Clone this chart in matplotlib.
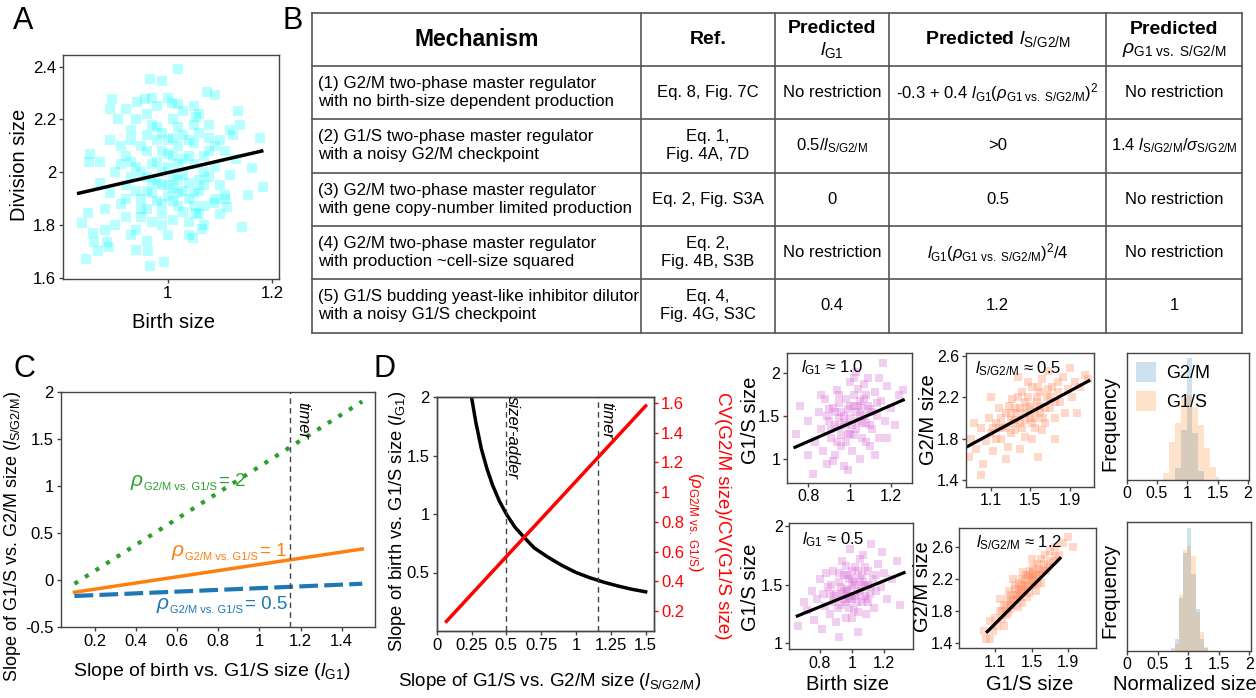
import numpy as np
import matplotlib
matplotlib.use('Agg')
import matplotlib.pyplot as plt
from matplotlib.ticker import FuncFormatter
from matplotlib.patches import Patch

W, H = 1256, 698

plt.rcParams['font.family'] = ['Liberation Sans', 'DejaVu Sans']
plt.rcParams['mathtext.fontset'] = 'custom'
plt.rcParams['mathtext.rm'] = 'Liberation Sans'
plt.rcParams['mathtext.it'] = 'Liberation Sans:italic'
plt.rcParams['mathtext.bf'] = 'Liberation Sans:bold'
plt.rcParams['mathtext.sf'] = 'Liberation Sans'

# ---------------- data ----------------
# panel A: birth size vs division size (points read off the cloud)
a_birth = [1.020, 0.966, 0.990, 1.075, 1.091, 0.893, 0.889, 0.906, 1.135, 1.176, 1.183, 1.143,
           0.836, 0.844, 0.967, 0.993, 0.851, 0.850, 0.858, 0.866, 0.860, 0.884, 0.887, 0.848,
           0.870, 0.940, 0.963, 1.049, 1.065, 1.154, 1.162, 1.138, 1.125, 1.110, 1.113, 1.088,
           1.055, 0.957, 0.942, 1.008, 1.020, 1.055,
           0.92, 0.94, 0.95, 0.96, 0.97, 0.98, 0.99, 1.00, 1.01, 1.02, 1.03, 1.04, 1.05, 1.06,
           1.07, 1.08, 0.90, 0.91, 0.93, 0.95, 0.97, 0.99, 1.01, 1.03, 1.05, 1.07, 1.09, 1.10,
           0.89, 0.92, 0.94, 0.96, 0.98, 1.00, 1.02, 1.04, 1.06, 1.08, 1.11, 0.93, 0.98, 1.00,
           1.02, 1.05, 0.96, 0.99, 1.03, 0.95, 1.01, 0.97, 1.04, 0.91, 1.12, 1.10, 0.88, 0.94,
           1.06, 1.00, 0.98, 1.09, 0.92, 1.13, 0.87, 1.03, 0.96, 1.01, 0.99, 1.02,
           0.93, 0.95, 0.97, 0.99, 1.01, 1.03, 1.05, 1.07, 0.94, 0.96, 0.98, 1.00, 1.02, 1.04,
           1.06, 1.08, 0.92, 0.95, 0.97, 0.99, 1.01, 1.03, 1.05, 1.07, 0.91, 0.93, 0.96, 0.98,
           1.00, 1.02, 1.04, 1.06, 1.08, 0.90, 0.93, 0.96, 0.99, 1.01, 1.04, 1.07, 1.09, 1.11,
           0.89, 0.92, 1.00, 1.05, 1.12, 0.88, 0.97, 1.10]
a_div = [2.391, 2.352, 2.347, 2.305, 2.292, 2.276, 2.238, 2.200, 2.233, 2.128, 1.942, 1.793,
         1.808, 1.669, 1.643, 1.659, 2.069, 2.040, 1.770, 1.701, 1.736, 1.736, 1.715, 1.846,
         2.040, 1.705, 1.700, 1.750, 1.785, 1.913, 2.014, 2.180, 2.140, 1.913, 1.869, 1.882,
         1.846, 2.276, 2.264, 2.261, 2.259, 2.210,
         1.95, 2.02, 1.90, 2.08, 1.97, 2.12, 1.88, 2.02, 1.94, 2.10, 1.99, 2.06, 1.92, 2.15,
         2.00, 2.08, 2.00, 1.88, 2.12, 1.83, 2.18, 1.80, 2.20, 1.85, 2.18, 1.87, 2.02, 1.95,
         1.92, 2.06, 1.78, 1.86, 2.04, 1.91, 2.03, 1.81, 1.97, 2.13, 2.08, 1.98, 1.96, 2.12,
         1.87, 2.03, 1.93, 2.15, 2.14, 2.00, 2.06, 1.81, 1.96, 2.10, 1.99, 2.12, 1.86, 2.20,
         1.84, 1.76, 2.25, 1.90, 1.83, 2.05, 1.96, 2.23, 2.14, 1.98, 2.00, 1.92,
         2.04, 2.10, 2.03, 2.08, 2.13, 2.05, 2.11, 2.06, 1.93, 1.98, 1.89, 1.95, 1.97, 1.90,
         1.93, 1.98, 1.90, 1.86, 1.92, 1.84, 1.89, 1.93, 1.87, 1.95, 2.03, 2.16, 2.22, 2.17,
         2.07, 2.17, 2.12, 2.22, 2.18, 1.80, 1.76, 1.74, 1.95, 1.82, 1.76, 1.80, 2.10, 1.90,
         2.12, 2.24, 2.28, 2.25, 2.16, 1.78, 2.28, 1.84]
a_fit_x = [0.83, 1.18]
a_fit_y = [1.92, 2.08]

# table B
table_header = ['Mechanism', 'Ref.', 'Predicted\n$\\mathit{l}_{\\mathrm{G1}}$',
                'Predicted $\\mathit{l}_{\\mathrm{S/G2/M}}$',
                'Predicted\n$\\rho_{\\mathrm{G1\\ vs.\\ S/G2/M}}$']
table_rows = [
    ['(1) G2/M two-phase master regulator\nwith no birth-size dependent production',
     'Eq. 8, Fig. 7C', 'No restriction',
     '-0.3 + 0.4 $\\mathit{l}_{\\mathrm{G1}}(\\rho_{\\mathrm{G1\\ vs.\\ S/G2/M}})^2$', 'No restriction'],
    ['(2) G1/S two-phase master regulator\nwith a noisy G2/M checkpoint',
     'Eq. 1,\nFig. 4A, 7D', '0.5/$\\mathit{l}_{\\mathrm{S/G2/M}}$', '>0',
     '1.4 $\\mathit{l}_{\\mathrm{S/G2/M}}/\\sigma_{\\mathrm{S/G2/M}}$'],
    ['(3) G2/M two-phase master regulator\nwith gene copy-number limited production',
     'Eq. 2, Fig. S3A', '0', '0.5', 'No restriction'],
    ['(4) G2/M two-phase master regulator\nwith production ~cell-size squared',
     'Eq. 2,\nFig. 4B, S3B', 'No restriction',
     '$\\mathit{l}_{\\mathrm{G1}}(\\rho_{\\mathrm{G1\\ vs.\\ S/G2/M}})^2$/4', 'No restriction'],
    ['(5) G1/S budding yeast-like inhibitor dilutor\nwith a noisy G1/S checkpoint',
     'Eq. 4,\nFig. 4G, S3C', '0.4', '1.2', '1'],
]

# panel C: l_S/G2/M vs l_G1 for three correlations
c_x = [0.1, 1.5]
c_rho2 = [-0.04, 1.90]
c_rho1 = [-0.13, 0.33]
c_rho05 = [-0.17, -0.04]
c_timer = 1.15

# panel D
d_lsg2m = [0.25, 0.28, 0.32, 0.36, 0.40, 0.45, 0.50, 0.56, 0.62, 0.70, 0.80, 0.90, 1.00,
           1.10, 1.20, 1.30, 1.40, 1.50]
d_lg1 = [2.00, 1.79, 1.56, 1.39, 1.25, 1.11, 1.00, 0.89, 0.81, 0.71, 0.63, 0.56, 0.50,
         0.455, 0.417, 0.385, 0.357, 0.335]
d_cv_x = [0.07, 1.50]
d_cv_y = [0.13, 1.58]
d_sizer_adder = 0.5
d_timer = 1.16

# small scatter panels
s1_x = [0.76, 0.74, 0.80, 0.82, 0.80, 0.83, 0.85, 0.86, 0.87, 0.88, 0.89, 0.90, 0.91, 0.92, 0.93,
        0.94, 0.95, 0.96, 0.96, 0.97, 0.98, 0.99, 1.00, 1.00, 1.01, 1.02, 1.03, 1.04, 1.05, 1.05,
        1.06, 1.07, 1.08, 1.09, 1.10, 1.10, 1.11, 1.12, 1.13, 1.14, 1.15, 1.16, 1.17, 1.18, 1.20,
        1.22, 1.24, 1.26, 0.93, 0.98, 1.02, 1.06, 0.90, 1.12, 0.95, 1.08, 1.00, 0.97, 1.04, 0.86,
        1.14, 1.03, 0.92, 0.99, 1.18,
        0.95, 0.97, 0.99, 1.01, 1.03, 1.05, 1.07, 1.09, 1.11, 0.93, 0.96, 1.00, 1.02, 1.04, 1.06,
        1.08, 0.91, 0.94, 0.98, 1.02, 1.10, 1.13, 0.89, 1.07, 0.95]
s1_y = [1.62, 1.30, 1.05, 0.83, 1.45, 1.20, 1.55, 1.35, 1.10, 1.70, 0.95, 1.45, 1.25, 1.60, 1.05,
        1.80, 1.38, 1.15, 1.55, 0.92, 1.70, 1.30, 1.48, 1.90, 1.10, 1.62, 1.35, 1.82, 1.00, 1.52,
        1.25, 1.70, 1.42, 1.95, 1.15, 1.58, 1.35, 1.78, 1.50, 1.25, 1.68, 2.12, 1.45, 1.85, 1.60,
        1.40, 1.75, 1.80, 1.40, 1.20, 1.95, 1.60, 1.58, 1.05, 1.65, 1.20, 1.30, 1.50, 1.45, 1.75,
        1.95, 2.02, 0.98, 0.88, 1.25,
        1.48, 1.42, 1.58, 1.40, 1.55, 1.68, 1.50, 1.62, 1.55, 1.55, 1.28, 1.62, 1.28, 1.62, 1.42,
        1.75, 1.35, 1.20, 1.40, 1.75, 1.40, 1.65, 1.50, 1.88, 1.75]
s1_fit = ([0.735, 1.259], [1.14, 1.69])

s2_x = [0.88, 0.90, 0.95, 1.00, 1.02, 1.05, 1.08, 1.10, 1.12, 1.15, 1.18, 1.20, 1.22, 1.25, 1.27,
        1.30, 1.32, 1.35, 1.37, 1.40, 1.42, 1.45, 1.47, 1.50, 1.52, 1.55, 1.57, 1.60, 1.62, 1.65,
        1.67, 1.70, 1.72, 1.75, 1.78, 1.80, 1.83, 1.85, 1.88, 1.92, 1.95, 2.00, 2.05, 2.08, 1.00,
        1.10, 1.25, 1.40, 1.58, 1.75, 1.90, 1.38, 1.48, 1.30, 1.55, 1.63, 1.45, 1.20, 1.68, 0.93,
        1.97, 1.35, 1.52, 1.60, 1.12,
        1.30, 1.35, 1.40, 1.45, 1.50, 1.55, 1.60, 1.65, 1.70, 1.42, 1.48, 1.58, 1.62, 1.25, 1.33,
        1.52, 1.38, 1.68, 1.75, 1.28, 1.18, 1.15, 1.78, 1.45, 1.57]
s2_y = [1.62, 1.80, 1.70, 1.90, 1.55, 1.78, 2.00, 1.85, 1.68, 1.95, 2.10, 1.80, 1.92, 2.05, 1.72,
        1.98, 2.18, 1.88, 2.05, 1.95, 2.25, 1.82, 2.10, 2.00, 2.30, 1.90, 2.15, 2.05, 2.38, 1.95,
        2.20, 2.10, 2.30, 2.00, 2.25, 2.15, 2.40, 2.05, 2.28, 2.20, 2.35, 2.30, 2.42, 2.38, 1.45,
        2.20, 1.60, 1.70, 1.62, 1.80, 2.48, 2.40, 2.35, 1.85, 2.08, 2.00, 1.98, 2.00, 2.45, 1.95,
        2.05, 2.10, 1.80, 2.25, 1.90,
        2.05, 1.98, 2.10, 2.05, 2.12, 2.00, 2.12, 2.10, 2.20, 1.90, 2.20, 2.30, 1.88, 1.90, 1.95,
        1.95, 2.20, 2.28, 2.15, 2.12, 1.90, 1.80, 2.35, 2.15, 2.20]
s2_fit = ([0.85, 2.09], [1.716, 2.36])

s3_x = [0.66, 0.70, 0.72, 0.75, 0.76, 0.78, 0.80, 0.81, 0.83, 0.85, 0.86, 0.88, 0.89, 0.90, 0.92,
        0.93, 0.94, 0.95, 0.96, 0.97, 0.98, 0.99, 1.00, 1.01, 1.02, 1.03, 1.04, 1.05, 1.06, 1.07,
        1.08, 1.09, 1.10, 1.11, 1.12, 1.13, 1.14, 1.16, 1.18, 1.20, 1.22, 1.25, 1.28, 1.30, 0.92,
        1.00, 1.05, 0.98, 1.02, 0.95, 1.08, 0.87, 1.15, 1.00, 0.90, 1.10, 0.96, 1.04, 0.84, 1.19,
        0.82, 0.97, 1.06,
        0.95, 0.97, 0.99, 1.01, 1.03, 1.05, 1.07, 1.09, 0.93, 0.91, 1.00, 1.04, 1.12, 0.88, 0.94,
        0.98, 1.02, 1.06, 1.10, 0.86, 1.15, 0.92, 1.08, 1.00, 0.96]
s3_y = [1.15, 1.35, 1.28, 1.45, 1.20, 1.38, 1.55, 1.12, 1.32, 1.48, 1.25, 1.62, 1.40, 1.18, 1.52,
        1.33, 1.70, 1.45, 1.22, 1.58, 1.38, 1.80, 1.48, 1.28, 1.65, 1.42, 1.10, 1.55, 1.35, 1.75,
        1.50, 1.25, 1.62, 1.42, 1.85, 1.55, 1.30, 1.68, 1.48, 1.60, 1.38, 1.55, 1.70, 1.33, 1.05,
        1.62, 1.72, 1.30, 1.50, 1.58, 1.40, 1.50, 1.45, 1.38, 1.42, 1.50, 1.66, 1.27, 1.60, 1.78,
        1.42, 1.46, 1.58,
        1.38, 1.45, 1.40, 1.52, 1.35, 1.45, 1.52, 1.38, 1.48, 1.30, 1.55, 1.62, 1.48, 1.35, 1.42,
        1.55, 1.40, 1.48, 1.35, 1.42, 1.58, 1.60, 1.65, 1.22, 1.35]
s3_fit = ([0.658, 1.325], [1.233, 1.602])

s4_x = [0.98, 1.00, 1.05, 1.08, 1.10, 1.12, 1.15, 1.18, 1.20, 1.22, 1.24, 1.26, 1.28, 1.30, 1.32,
        1.34, 1.36, 1.38, 1.40, 1.42, 1.44, 1.46, 1.48, 1.50, 1.52, 1.54, 1.56, 1.58, 1.60, 1.62,
        1.65, 1.68, 1.70, 1.73, 1.76, 1.80, 1.84, 1.90, 1.95, 1.25, 1.35, 1.45, 1.55, 1.30, 1.40,
        1.50, 1.60, 1.20, 1.15, 1.05, 1.70, 1.38, 1.48, 1.42, 1.33, 1.52, 1.28,
        1.30, 1.35, 1.40, 1.45, 1.50, 1.55, 1.37, 1.43, 1.47, 1.53, 1.58, 1.63, 1.27, 1.22, 1.18,
        1.32, 1.41, 1.57, 1.66, 1.75, 1.46, 1.36, 1.24, 1.51, 1.60]
s4_y = [1.55, 1.45, 1.68, 1.55, 1.72, 1.62, 1.80, 1.70, 1.88, 1.75, 1.95, 1.82, 2.00, 1.88, 2.08,
        1.95, 2.15, 2.02, 2.20, 2.05, 2.25, 2.10, 2.30, 2.15, 2.35, 2.20, 2.38, 2.25, 2.45, 2.30,
        2.50, 2.35, 2.55, 2.42, 2.60, 2.50, 2.65, 2.72, 2.60, 2.05, 1.85, 1.98, 2.05, 2.20, 1.90,
        2.45, 2.15, 1.62, 1.95, 1.45, 2.40, 2.10, 2.22, 2.12, 2.00, 2.28, 1.92,
        1.95, 2.00, 2.08, 2.12, 2.18, 2.25, 1.98, 2.18, 2.02, 2.12, 2.32, 2.38, 1.88, 1.85, 1.80,
        2.12, 2.28, 2.15, 2.30, 2.48, 2.25, 2.06, 1.78, 2.25, 2.28]
s4_fit = ([1.016, 1.809], [1.544, 2.455])

# histograms (bar heights in arbitrary frequency units)
h1_edges = [0.60, 0.694, 0.794, 0.889, 0.989, 1.083, 1.178, 1.278, 1.378, 1.472, 1.528]
h1_g2m = [0, 0, 35, 150, 366, 140, 25, 0, 0, 0]
h1_g1s = [21, 114, 169, 244, 254, 219, 164, 94, 39, 9]
h2_edges = [0.712, 0.778, 0.845, 0.917, 0.984, 1.05, 1.117, 1.184, 1.25, 1.317]
h2_g2m = [7, 35, 155, 290, 365, 227, 125, 35, 7]
h2_g1s = [0, 20, 165, 300, 310, 280, 115, 55, 10]

# ---------------- helpers ----------------
fig = plt.figure(figsize=(W / 100, H / 100), dpi=100)
renderer = fig.canvas.get_renderer()

def add_ax(l, t, r, b):
    return fig.add_axes([l / W, 1 - b / H, (r - l) / W, (b - t) / H])

def ftext(x, y, s, **kw):
    kw.setdefault('ha', 'center')
    kw.setdefault('va', 'center')
    return fig.text(x / W, 1 - y / H, s, **kw)

def rho_label(x, yb, sub, tail, color):
    # rho with a small subscript, followed by "= value"
    t = ftext(x, yb, 'ρ', ha='left', va='baseline', color=color, fontsize=15, style='italic')
    x1 = t.get_window_extent(renderer).x1
    t = ftext(x1 + 1, yb + 4, sub, ha='left', va='baseline', color=color, fontsize=8)
    x2 = t.get_window_extent(renderer).x1
    ftext(x2 + 2, yb, tail, ha='left', va='baseline', color=color, fontsize=13.5)

fmt = FuncFormatter(lambda v, _: f'{v:g}')

def style(ax, fs=11, pad=2):
    for sp in ax.spines.values():
        sp.set_color('#444444')
        sp.set_linewidth(1)
    ax.tick_params(labelsize=fs, length=3, width=1, color='#444444', pad=pad)
    ax.xaxis.set_major_formatter(fmt)
    ax.yaxis.set_major_formatter(fmt)

lG1 = r'$\mathit{l}_{\mathrm{G1}}$'
lS = r'$\mathit{l}_{\mathrm{S/G2/M}}$'
rho_c = r'$\rho_{\mathrm{G2/M\ vs.\ G1/S}}$'
LAB = 14.5

# ---------------- panel A ----------------
ax = add_ax(63, 55, 279, 279)
ax.scatter(a_birth, a_div, s=50, marker='s', color='cyan', alpha=0.28, linewidths=0)
ax.plot(a_fit_x, a_fit_y, color='black', lw=2.5)
ax.set_xlim(0.8, 1.213)
ax.set_ylim(1.595, 2.444)
ax.set_xticks([1, 1.2])
ax.set_yticks([1.6, 1.8, 2, 2.2, 2.4])
style(ax, 12)
ftext(20, 165, 'Division size', rotation=90, fontsize=LAB)
ftext(174, 322, 'Birth size', fontsize=LAB)
ftext(23, 21, 'A', fontsize=22)

# ---------------- table B ----------------
tax = fig.add_axes([0, 0, 1, 1], zorder=-1)
tax.set_xlim(0, W)
tax.set_ylim(H, 0)
tax.axis('off')
row_y = [13, 66, 119, 173, 226, 279, 333]
col_x = [312, 641, 775, 889, 1106, 1242]
for y in row_y:
    tax.plot([col_x[0], col_x[-1]], [y, y], color='#555555', lw=1.2)
for x in col_x:
    tax.plot([x, x], [row_y[0], row_y[-1]], color='#555555', lw=1.2)
centers = [(col_x[i] + col_x[i + 1]) / 2 for i in range(5)]
tax.text(centers[0], 39, table_header[0], ha='center', va='center', fontsize=16.5, weight='bold')
tax.text(centers[1], 39, table_header[1], ha='center', va='center', fontsize=14, weight='bold')
tax.text(centers[2], 40, table_header[2], ha='center', va='center', fontsize=14, weight='bold',
         linespacing=1.15)
tax.text(centers[3], 39, table_header[3], ha='center', va='center', fontsize=14, weight='bold')
tax.text(centers[4], 40, table_header[4], ha='center', va='center', fontsize=14, weight='bold',
         linespacing=1.15)
for i, row in enumerate(table_rows):
    yc = (row_y[i + 1] + row_y[i + 2]) / 2
    tax.text(col_x[0] + 6, yc, row[0], ha='left', va='center', fontsize=12.2, linespacing=1.25)
    for j in range(1, 5):
        tax.text(centers[j], yc, row[j], ha='center', va='center', fontsize=12, linespacing=1.25)
ftext(293, 21, 'B', fontsize=22)

# ---------------- panel C ----------------
ax = add_ax(60.7, 392, 375, 627)
ax.plot(c_x, c_rho2, color='#2ca02c', lw=3, linestyle=(0, (1, 2)))
ax.plot(c_x, c_rho1, color='#ff7f0e', lw=2.5)
ax.plot(c_x, c_rho05, color='#1f77b4', lw=3, linestyle=(0, (4.5, 1.5)))
ax.axvline(c_timer, color='#444444', lw=1, linestyle=(0, (4, 3)))
ax.set_xlim(0.033, 1.562)
ax.set_ylim(-0.5, 2)
ax.set_xticks([0.2, 0.4, 0.6, 0.8, 1, 1.2, 1.4])
ax.set_yticks([-0.5, 0, 0.5, 1, 1.5, 2])
style(ax, 12)
rho_label(131, 486, 'G2/M vs. G1/S', '= 2', '#2ca02c')
rho_label(172, 556, 'G2/M vs. G1/S', '= 1', '#ff7f0e')
rho_label(157, 609, 'G2/M vs. G1/S', '= 0.5', '#1f77b4')
ftext(303, 420, 'timer', rotation=270, style='italic', fontsize=12)
ftext(212, 672, 'Slope of birth vs. G1/S size (' + lG1 + ')', fontsize=14)
ftext(13, 536, 'Slope of G1/S vs. G2/M size (' + lS + ')', rotation=90, fontsize=13)
ftext(24, 369, 'C', fontsize=22)

# ---------------- panel D ----------------
ax = add_ax(436.7, 397, 654, 631)
ax.plot(d_lsg2m, d_lg1, color='black', lw=2.5)
ax.axvline(d_sizer_adder, color='#444444', lw=1, linestyle=(0, (4, 3)))
ax.axvline(d_timer, color='#444444', lw=1, linestyle=(0, (4, 3)))
ax.set_xlim(0, 1.56)
ax.set_ylim(0, 2)
ax.set_xticks([0, 0.25, 0.5, 0.75, 1, 1.25, 1.5])
ax.set_yticks([0.5, 1, 1.5, 2])
style(ax, 12)
ax2 = ax.twinx()
ax2.plot(d_cv_x, d_cv_y, color='red', lw=2.5)
ax2.set_ylim(0.065, 1.64)
ax2.set_yticks([0.2, 0.4, 0.6, 0.8, 1, 1.2, 1.4, 1.6])
style(ax2, 12)
ax2.tick_params(axis='y', colors='red', labelcolor='red')
ftext(512, 438, 'sizer-adder', rotation=270, style='italic', fontsize=12)
ftext(607, 421, 'timer', rotation=270, style='italic', fontsize=12)
ftext(550, 681, 'Slope of G1/S vs. G2/M size (' + lS + ')', fontsize=13.5)
ftext(397, 521, 'Slope of birth vs. G1/S size (' + lG1 + ')', rotation=90, fontsize=13.2)
ftext(722, 516, 'CV(G2/M size)/CV(G1/S size)', rotation=270, color='red', fontsize=13.5)
ftext(695, 522, '(' + rho_c + ')', rotation=270, color='red', fontsize=12)
ftext(384, 369, 'D', fontsize=22)

# ---------------- small scatter panels ----------------
violet = 'orchid'
coral = '#ff8a5c'

def small_scatter(box, xs, ys, fit, color, xlim, ylim, xt, yt, note, note_xy):
    a = add_ax(*box)
    a.scatter(xs, ys, s=28, marker='s', color=color, alpha=0.33, linewidths=0)
    a.plot(fit[0], fit[1], color='black', lw=2.3)
    a.set_xlim(*xlim)
    a.set_ylim(*ylim)
    a.set_xticks(xt)
    a.set_yticks(yt)
    style(a, 11.5, pad=1.5)
    ftext(note_xy[0], note_xy[1], note, ha='left', fontsize=12)
    return a

small_scatter((786.7, 353, 911.7, 482.7), s1_x, s1_y, s1_fit, violet, (0.695, 1.3),
              (0.728, 2.236), [0.8, 1, 1.2], [1, 1.5, 2], lG1 + ' ≈ 1.0', (801, 368))
small_scatter((965.7, 353.3, 1094.3, 486.7), s2_x, s2_y, s2_fit, coral, (0.848, 2.145),
              (1.335, 2.626), [1.1, 1.5, 1.9], [1.4, 1.8, 2.2, 2.6], lS + ' ≈ 0.5', (975, 369))
small_scatter((789.3, 522.7, 913.3, 649.3), s3_x, s3_y, s3_fit, violet, (0.608, 1.383),
              (0.949, 2.028), [0.8, 1, 1.2], [1, 1.5, 2], lG1 + ' ≈ 0.5', (802, 540))
small_scatter((959.3, 528.3, 1096, 648.3), s4_x, s4_y, s4_fit, coral, (0.711, 2.202),
              (1.338, 2.828), [1.1, 1.5, 1.9], [1.4, 1.8, 2.2, 2.6], lS + ' ≈ 1.2', (976, 543))

for yc, g2x in ((420, 929), (587, 923)):
    ftext(750, yc, 'G1/S size', rotation=90, fontsize=LAB)
    ftext(g2x, yc, 'G2/M size', rotation=90, fontsize=LAB)
    ftext(1110, yc + 3, 'Frequency', rotation=90, fontsize=LAB)
ftext(848, 685, 'Birth size', fontsize=LAB)
ftext(1030, 685, 'G1/S size', fontsize=LAB)
ftext(1185, 685, 'Normalized size', fontsize=LAB)

# ---------------- histograms ----------------
def hist_panel(box, edges, g2m, g1s, top, legend=False):
    a = add_ax(*box)
    left = edges[:-1]
    widths = np.diff(edges)
    a.bar(left, g2m, width=widths, align='edge', color='#1f77b4', alpha=0.22, linewidth=0)
    a.bar(left, g1s, width=widths, align='edge', color='#ff7f0e', alpha=0.22, linewidth=0)
    a.set_xlim(0, 2.02)
    a.set_ylim(0, top)
    a.set_xticks([0, 0.5, 1, 1.5, 2])
    a.set_yticks([])
    style(a, 11.5, pad=1.5)
    if legend:
        handles = [Patch(color='#1f77b4', alpha=0.22, lw=0), Patch(color='#ff7f0e', alpha=0.22, lw=0)]
        a.legend(handles, ['G2/M', 'G1/S'], loc='upper left', frameon=False, fontsize=13,
                 handlelength=1.1, handleheight=1.3, borderaxespad=0.1, handletextpad=0.6)
    return a

hist_panel((1126.7, 353, 1249, 479.7), h1_edges, h1_g2m, h1_g1s, 380, legend=True)
hist_panel((1127.3, 521.7, 1250.7, 650.7), h2_edges, h2_g2m, h2_g1s, 383)

fig.savefig('out.png', dpi=100)
